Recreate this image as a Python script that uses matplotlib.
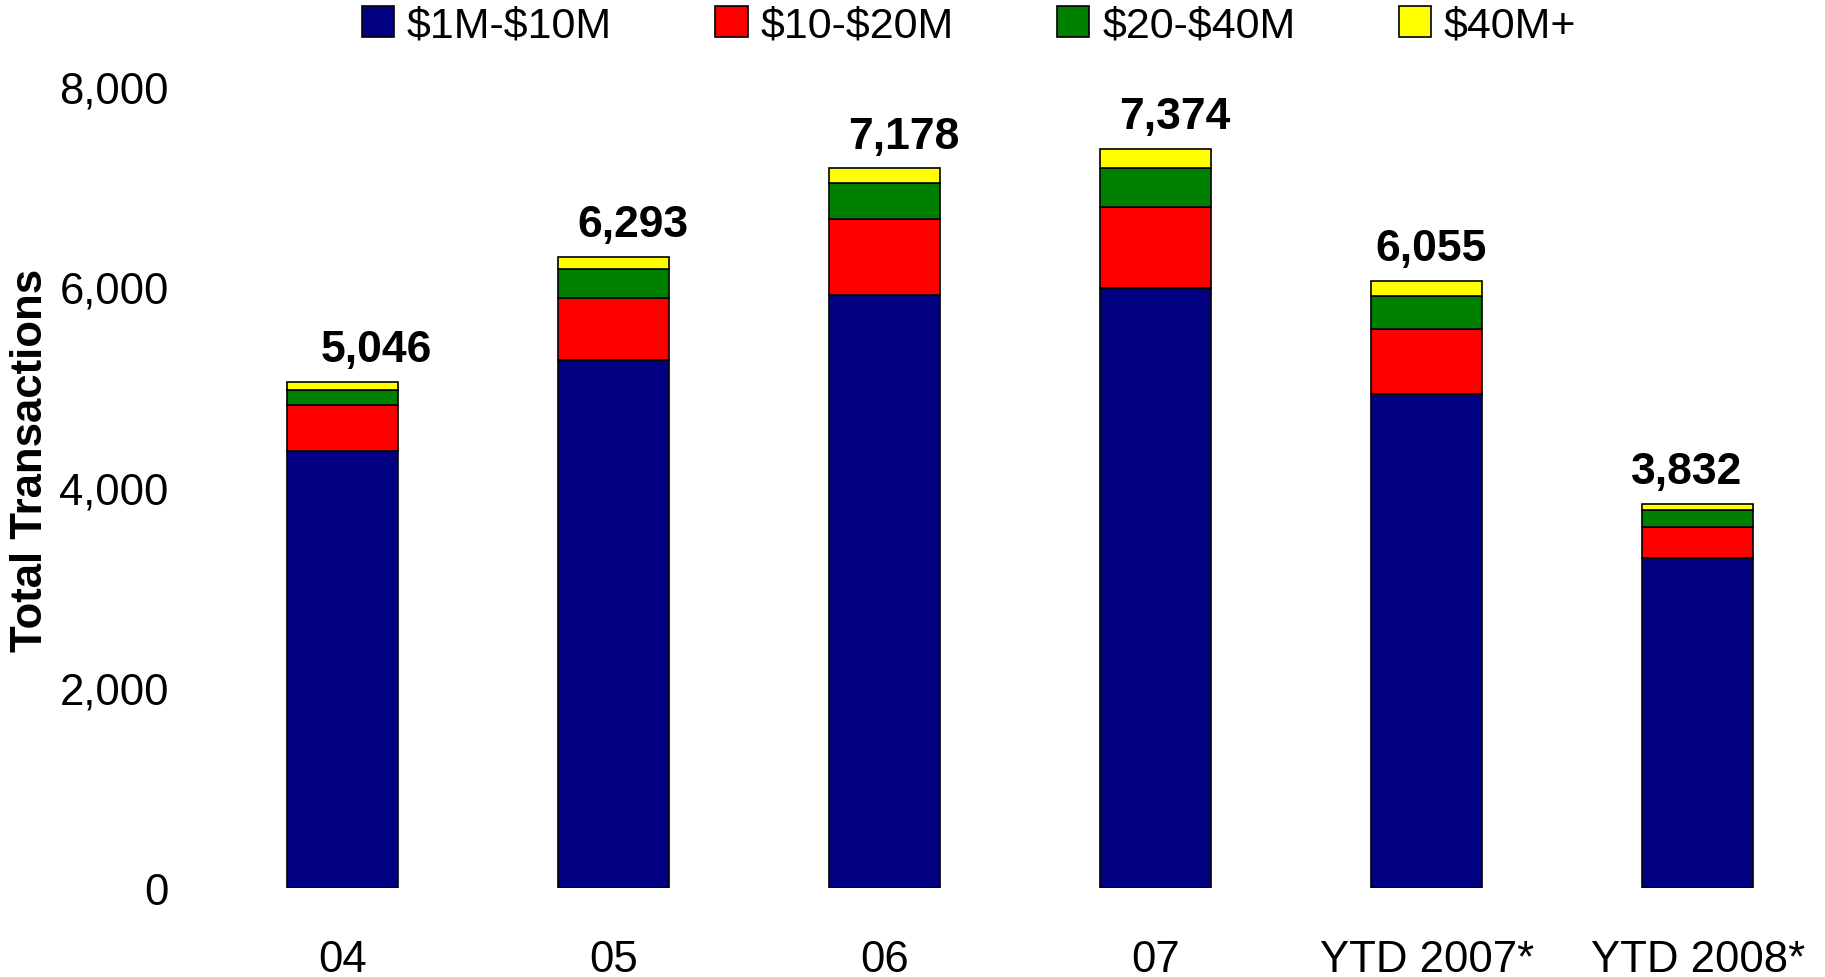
import matplotlib
matplotlib.use("Agg")
import matplotlib.pyplot as plt
import numpy as np

plt.rcParams['font.family'] = ['Liberation Sans', 'DejaVu Sans']
plt.rcParams['text.parse_math'] = False

categories = ["04", "05", "06", "07", "YTD 2007*", "YTD 2008*"]
series_names = ["$1M-$10M", "$10-$20M", "$20-$40M", "$40M+"]
s_1_10 = [4360, 5268, 5918, 5982, 4925, 3292]
s_10_20 = [456, 617, 754, 816, 653, 311]
s_20_40 = [150, 289, 357, 387, 330, 168]
s_40p = [80, 119, 149, 189, 147, 61]
totals = [5046, 6293, 7178, 7374, 6055, 3832]
yticks = [0, 2000, 4000, 6000, 8000]

colors = ["#000080", "#FF0000", "#008000", "#FFFF00"]
label_dx_pt = [24, 14, 14, 14, 3, -8]

fig = plt.figure(figsize=(18.25, 9.78), dpi=100)
ax = fig.add_axes([0.0986, 0.091, 0.8984, 0.820])

x = np.arange(len(categories))
bottom = np.zeros(len(categories))
handles = []
for name, vals, c in zip(series_names, [s_1_10, s_10_20, s_20_40, s_40p], colors):
    b = ax.bar(x, vals, width=0.41, bottom=bottom, color=c, edgecolor="black",
               linewidth=1.2, label=name)
    handles.append(b)
    bottom += np.array(vals)

for xi, top, t, dx in zip(x, bottom, totals, label_dx_pt):
    ax.annotate(f"{t:,}", xy=(xi, top), xytext=(dx, 15), textcoords="offset points",
                ha="center", va="baseline", fontsize=32, fontweight="bold")

ax.set_xlim(-0.6, 5.45)
ax.set_ylim(0, 8000)
ax.set_xticks(x)
ax.set_xticklabels(categories, fontsize=31.5)
ax.set_yticks(yticks)
ax.set_yticklabels([f"{v:,}" for v in yticks], fontsize=31.5)
ax.tick_params(axis="x", length=0, pad=37)
ax.tick_params(axis="y", length=0, pad=8)
for s in ax.spines.values():
    s.set_visible(False)

fig.text(31 / 1825, 1 - 460 / 978, "Total Transactions", rotation=90,
         ha="center", va="center", fontsize=31.5, fontweight="bold")

leg = fig.legend(handles=handles, labels=series_names, loc="center",
                 bbox_to_anchor=(0.531, 0.973), ncol=4, frameon=False,
                 fontsize=31, handlelength=0.75, handleheight=0.75,
                 handletextpad=0.3, columnspacing=2.4, borderaxespad=0)

fig.savefig("out.png", dpi=100)
